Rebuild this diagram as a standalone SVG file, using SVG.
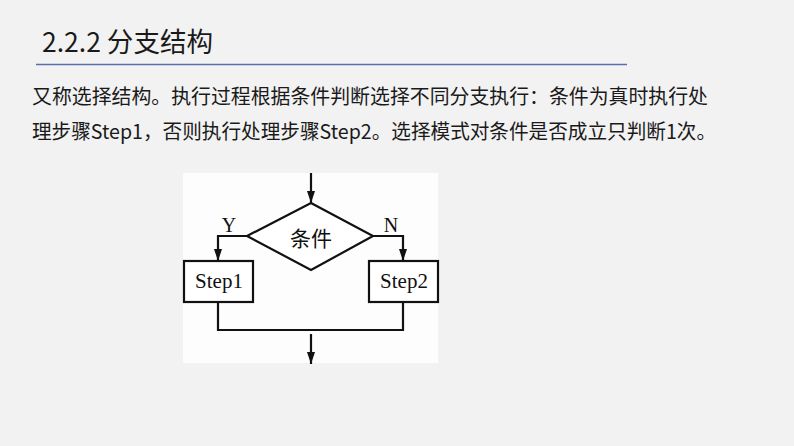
<svg xmlns="http://www.w3.org/2000/svg" width="794" height="446" viewBox="0 0 794 446">
<style>
.cjk{font-family:"Noto Sans CJK SC","Noto Sans",sans-serif;fill:#1a1a1a}
.ser{font-family:"Liberation Serif","Noto Sans CJK SC",serif;fill:#111}
.ln{fill:none;stroke:#111;stroke-width:2.2}
.box{fill:#fff;stroke:#111;stroke-width:2.2}
</style>
<defs>
<marker id="ah" viewBox="0 0 12 10" refX="12" refY="5" markerWidth="12" markerHeight="10" markerUnits="userSpaceOnUse" orient="auto">
<path d="M0,1 L12,5 L0,9 Z" fill="#111"/>
</marker>
</defs>
<rect width="794" height="446" fill="#f2f2f2"/>
<g id="title">
<text class="cjk" x="42" y="52" font-size="27" textLength="171" lengthAdjust="spacingAndGlyphs">2.2.2 分支结构</text>
<line x1="36" y1="64.5" x2="627" y2="64.5" stroke="#5b6db0" stroke-width="1.3"/>
</g>
<g id="body">
<text class="cjk" x="32" y="104" font-size="20" textLength="676" lengthAdjust="spacingAndGlyphs">又称选择结构。执行过程根据条件判断选择不同分支执行：条件为真时执行处</text>
<text class="cjk" x="32" y="139" font-size="20" textLength="684" lengthAdjust="spacingAndGlyphs">理步骤Step1，否则执行处理步骤Step2。选择模式对条件是否成立只判断1次。</text>
</g>
<rect x="183" y="173" width="255" height="190" fill="#fdfdfd"/>
<g id="connectors">
<line class="ln" x1="311" y1="173" x2="311" y2="203" marker-end="url(#ah)"/>
<polyline class="ln" points="247,236 218,236 218,261" marker-end="url(#ah)"/>
<polyline class="ln" points="373,236 403,236 403,261" marker-end="url(#ah)"/>
<polyline class="ln" points="218,302 218,330 403,330 403,302"/>
<line class="ln" x1="311" y1="334" x2="311" y2="364" marker-end="url(#ah)"/>
<text class="ser" x="229" y="232" font-size="20" text-anchor="middle">Y</text>
<text class="ser" x="391" y="232" font-size="20" text-anchor="middle">N</text>
</g>
<g id="cond">
<polygon class="box" points="311,203 373,236 311,270 247,236"/>
<text class="cjk" x="311" y="246" font-size="21" text-anchor="middle" style="fill:#111">条件</text>
</g>
<g id="step1">
<rect class="box" x="184" y="261" width="69" height="41"/>
<text class="ser" x="219" y="288" font-size="21" text-anchor="middle">Step1</text>
</g>
<g id="step2">
<rect class="box" x="369" y="261" width="69" height="41"/>
<text class="ser" x="404" y="288" font-size="21" text-anchor="middle">Step2</text>
</g>
</svg>
